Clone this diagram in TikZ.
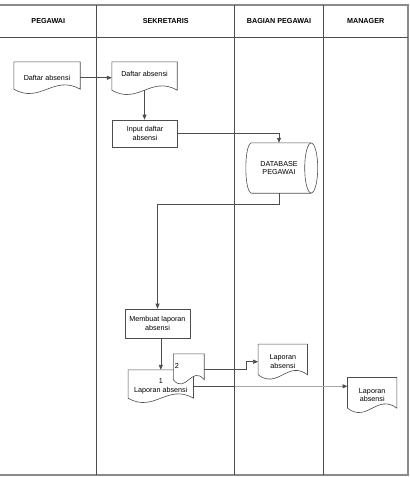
\documentclass[tikz,border=0pt]{standalone}
\usepackage{fontspec}
\setmainfont{Liberation Sans}
\usetikzlibrary{arrows.meta,calc}

\definecolor{linegray}{HTML}{4D4D4D}
\definecolor{framegray}{HTML}{8A8A8A}
\definecolor{flowlight}{HTML}{A8A8A8}

\pgfdeclarelayer{lanes}
\pgfdeclarelayer{shapes}
\pgfsetlayers{lanes,shapes,main}

% outline of a document symbol round a named node
\newcommand{\docout}[1]{%
  \draw[line, fill=white] ([yshift=4.5pt]#1.south west) -- (#1.north west) -- (#1.north east) -- ([yshift=4.5pt]#1.south east)
    .. controls ($(#1.south east)!0.4!(#1.south west)+(0,-19.5)$) and ($(#1.south west)!0.4!(#1.south east)+(0,10.5)$) .. ([yshift=4.5pt]#1.south west) -- cycle;}

\tikzset{
  line/.style={draw=linegray, line width=0.6pt},
  flow/.style={line, -{Triangle[length=5pt,width=4pt,color=linegray]}},
  proc/.style={rectangle, line, fill=white, align=center, inner sep=1pt, font=\fontsize{7.2}{8.5}\selectfont},
  docu/.style={rectangle, align=center, inner sep=1pt, font=\fontsize{7.2}{8.5}\selectfont},
  lanehead/.style={font=\fontsize{7.2}{8.5}\selectfont\bfseries},
}

\begin{document}
\begin{tikzpicture}[x=1pt, y=-1pt]
  \useasboundingbox (0,0) rectangle (410,477);

  % lanes
  \begin{pgfonlayer}{lanes}
    \draw[framegray, line width=1.2pt] (0,5) -- (408,5) -- (408,475) -- (0,475);
    \draw[line] (0,37) -- (408,37);
    \foreach \x in {96.7, 234.7, 323.3}
      \draw[line] (\x,5) -- (\x,475);
  \end{pgfonlayer}
  \coordinate (bagleft) at (234.7,37);

  \node[lanehead] (hpeg) at (48.3,21) {PEGAWAI};
  \node[lanehead] (hsek) at (165.7,21) {SEKRETARIS};
  \node[lanehead] (hbag) at (279,21) {BAGIAN PEGAWAI};
  \node[lanehead] (hman) at (365.7,21) {MANAGER};

  % symbols
  \node[docu, minimum width=66pt, minimum height=31.5pt] (dpeg) at (47,77.75) {Daftar absensi};
  \node[docu, minimum width=65pt, minimum height=32.5pt, text depth=8pt] (dsek) at (144.5,78.25) {Daftar absensi};
  \node[proc, minimum width=65pt, minimum height=27pt] (inp) at (145,133.5) {Input daftar\\absensi};
  \node[docu, minimum width=54pt, minimum height=50pt] (db) at (279,168) {DATABASE\\PEGAWAI};
  \node[proc, minimum width=65pt, minimum height=29pt] (mbl) at (157.5,323.5) {Membuat laporan\\absensi};
  \node[docu, minimum width=65pt, minimum height=32.5pt] (lap1) at (160.8,386.25) {1\\Laporan absensi};
  \node[docu, minimum width=30.5pt, minimum height=30pt, text width=28pt, align=left, text depth=6pt] (lap2) at (188.75,369) {2};
  \node[docu, minimum width=49pt, minimum height=34.7pt] (lapb) at (282.8,361.7) {Laporan\\absensi};
  \node[docu, minimum width=49pt, minimum height=34.8pt] (lapm) at (372.2,395.1) {Laporan\\absensi};

  \begin{pgfonlayer}{shapes}
    \docout{dpeg}
    \docout{dsek}
    \docout{lap1}
    \docout{lap2}
    \docout{lapb}
    \docout{lapm}
    \draw[line, fill=white] ([xshift=5pt]db.north east) -- (db.north west) .. controls +(-8,0) and +(-8,0) .. (db.south west) -- ([xshift=5pt]db.south east);
    \draw[line] ([xshift=5pt]db.east) ellipse [x radius=6.5pt, y radius=25pt];
  \end{pgfonlayer}

  % flows
  \draw[flow] (dpeg.east) -- (dpeg.east -| dsek.west);
  \draw[flow] ([yshift=4.5pt]dsek.south) -- (dsek.south |- inp.north);
  \draw[flow] (inp.east) -| (db.north);
  \draw[flow] (db.south) -- ++(0,11) -| (mbl.north);
  \draw[flow] (mbl.south -| lap1.north) -- (lap1.north);
  \draw[flow] (lap2.east) -| ([xshift=-12pt]lapb.west) -- (lapb.west);
  \draw[line] (lap1.east) -- (lap1.east -| bagleft);
  \draw[flow, draw=flowlight, line width=1.3pt] (lap1.east -| bagleft) -- (lap1.east -| lapm.west);
\end{tikzpicture}
\end{document}
